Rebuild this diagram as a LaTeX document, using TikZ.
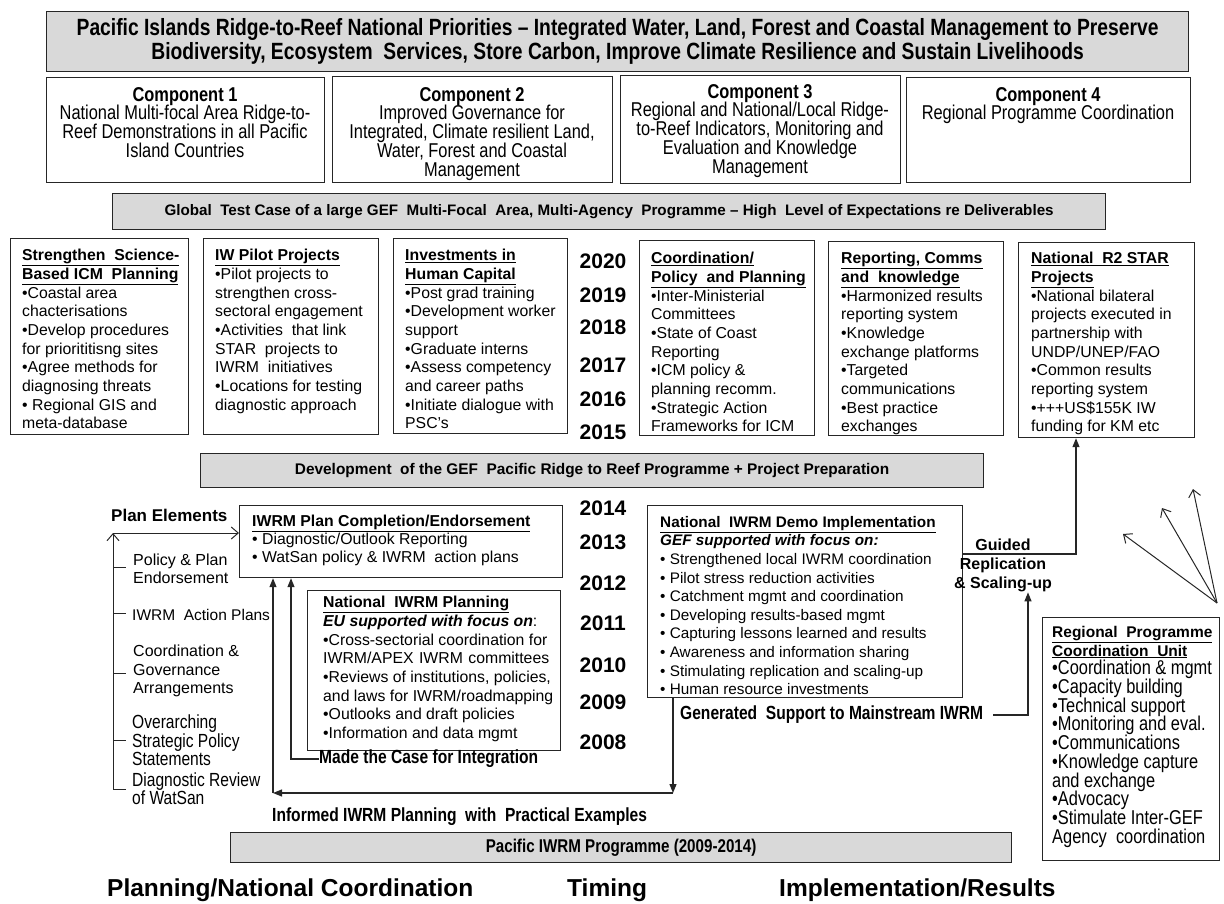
\documentclass[tikz,border=0pt]{standalone}
\usepackage{fontspec}
\setmainfont{Liberation Sans}
\newfontfamily\narrowfont[FakeStretch=0.82]{Liberation Sans}
\usetikzlibrary{arrows.meta}
\definecolor{barfill}{HTML}{D9D9D9}
\definecolor{edge}{HTML}{262626}
\newcommand{\fsz}[2]{\fontsize{#1}{#2}\selectfont}
\newcommand{\hd}[1]{\underline{\textbf{#1}}}

\begin{document}
\begin{tikzpicture}[x=1pt, y=-1pt,
    box/.style={draw=edge, line width=1.2pt, anchor=north west, inner sep=0pt},
    bar/.style={box, fill=barfill},
    txt/.style={anchor=north west, align=left, inner sep=0pt, font=\fsz{15.8}{18.7}},
    ctxt/.style={anchor=north, align=center, inner sep=0pt, font=\narrowfont\fsz{20}{18.8}},
    ntxt/.style={inner sep=0pt, font=\narrowfont\bfseries\fsz{19}{19}},
    yr/.style={inner sep=0pt, font=\bfseries\fsz{21}{21}},
    coltitle/.style={anchor=west, inner sep=0pt, font=\bfseries\fsz{24.5}{24.5}},
    link/.style={draw=edge, line width=1.2pt},
    fillarr/.style={link, -{Triangle[length=9pt, width=7pt]}},
    openarr/.style={draw=edge, line width=1pt, -{Straight Barb[length=7pt, width=12pt]}}]
		%%%%% START %%%%%
		\useasboundingbox (0,0) rectangle (1224,904);

		% priorities and components
		\node[bar, minimum width=1142, minimum height=60] (prio) at (46,11) {};
		\node[align=center, inner sep=0pt, font=\narrowfont\bfseries\fsz{23.5}{24}] (prio-t) at (prio.center)
			{Pacific Islands Ridge-to-Reef National Priorities – Integrated Water, Land, Forest and Coastal Management to Preserve\\
			 Biodiversity, Ecosystem~ Services, Store Carbon, Improve Climate Resilience and Sustain Livelihoods};

		\node[box, minimum width=278, minimum height=105] (c1) at (46,77) {};
		\node[box, minimum width=280, minimum height=106] (c2) at (332,76) {};
		\node[box, minimum width=280, minimum height=108] (c3) at (620,75) {};
		\node[box, minimum width=284, minimum height=105] (c4) at (906,77) {};
		\node[ctxt] (c1-t) at (185,87) {\textbf{Component 1}\\National Multi-focal Area Ridge-to-\\Reef Demonstrations in all Pacific\\Island Countries};
		\node[ctxt] (c2-t) at (472,87) {\textbf{Component 2}\\Improved Governance for\\Integrated, Climate resilient Land,\\Water, Forest and Coastal\\Management};
		\node[ctxt] (c3-t) at (760,84) {\textbf{Component 3}\\Regional and National/Local Ridge-\\to-Reef Indicators, Monitoring and\\Evaluation and Knowledge\\Management};
		\node[ctxt] (c4-t) at (1048,87) {\textbf{Component 4}\\Regional Programme Coordination};

		\node[bar, minimum width=993, minimum height=36] (glob) at (112,193) {};
		\node[inner sep=0pt, font=\bfseries\fsz{15.2}{15.2}] (glob-t) at (glob.center)
			{Global~ Test Case of a large GEF~ Multi-Focal~ Area, Multi-Agency~ Programme – High~ Level of Expectations re Deliverables};

		% ridge to reef programme
		\node[box, minimum width=178, minimum height=196] (sci) at (10,238) {};
		\node[box, minimum width=175, minimum height=196] (iwp) at (203,238) {};
		\node[box, minimum width=174, minimum height=195] (hum) at (393,238) {};
		\node[box, minimum width=175, minimum height=195] (coo) at (639,240) {};
		\node[box, minimum width=175, minimum height=194] (rep) at (828,241) {};
		\node[box, minimum width=176, minimum height=195] (star) at (1018,242) {};

		\node[txt] (sci-t) at (22,249) {\hd{Strengthen~ Science-}\\\hd{Based ICM~ Planning}\\{\textbullet}Coastal area\\chacterisations\\{\textbullet}Develop procedures\\for priorititisng sites\\{\textbullet}Agree methods for\\diagnosing threats\\{\textbullet} Regional GIS and\\meta-database};
		\node[txt] (iwp-t) at (215,249) {\hd{IW Pilot Projects}\\{\textbullet}Pilot projects to\\strengthen cross-\\sectoral engagement\\{\textbullet}Activities~ that link\\STAR~ projects to\\IWRM~ initiatives\\{\textbullet}Locations for testing\\diagnostic approach};
		\node[txt] (hum-t) at (405,249) {\hd{Investments in}\\\hd{Human Capital}\\{\textbullet}Post grad training\\{\textbullet}Development worker\\support\\{\textbullet}Graduate interns\\{\textbullet}Assess competency\\and career paths\\{\textbullet}Initiate dialogue with\\PSC's};
		\node[txt] (coo-t) at (651,252) {\hd{Coordination/}\\\hd{Policy~ and Planning}\\{\textbullet}Inter-Ministerial\\Committees\\{\textbullet}State of Coast\\Reporting\\{\textbullet}ICM policy \&\\planning recomm.\\{\textbullet}Strategic Action\\Frameworks for ICM};
		\node[txt] (rep-t) at (841,252) {\hd{Reporting, Comms}\\\hd{and~ knowledge}\\{\textbullet}Harmonized results\\reporting system\\{\textbullet}Knowledge\\exchange platforms\\{\textbullet}Targeted\\communications\\{\textbullet}Best practice\\exchanges};
		\node[txt] (star-t) at (1031,252) {\hd{National~ R2 STAR}\\\hd{Projects}\\{\textbullet}National bilateral\\projects executed in\\partnership with\\UNDP/UNEP/FAO\\{\textbullet}Common results\\reporting system\\{\textbullet}+++US\$155K IW\\funding for KM etc};

		\foreach \yr/\y in {2020/261, 2019/295, 2018/327, 2017/365, 2016/399, 2015/432}
			\node[yr] (y\yr) at (603,\y) {\yr};

		\node[bar, minimum width=783, minimum height=34] (dev) at (200,453) {};
		\node[inner sep=0pt, font=\bfseries\fsz{15.4}{15.4}] (dev-t) at (dev.center)
			{Development~ of the GEF~ Pacific Ridge to Reef Programme + Project Preparation};

		% pacific iwrm programme
		\node[anchor=west, inner sep=0pt, font=\bfseries\fsz{17}{17}] (pe-t) at (111,515) {Plan Elements};
		\node[box, minimum width=323, minimum height=72] (plan) at (239,505) {};
		\node[txt, font=\fsz{15.8}{18}] (plan-t) at (252,515) {\hd{IWRM Plan Completion/Endorsement}\\{\textbullet} Diagnostic/Outlook Reporting\\{\textbullet} WatSan policy \& IWRM~ action plans};
		\node[box, minimum width=253, minimum height=160] (nat) at (307,590) {};
		\node[txt] (nat-t) at (323,596) {\hd{National~ IWRM Planning}\\\textbf{\textit{EU supported with focus on}}:\\{\textbullet}Cross-sectorial coordination for\\\hbox to 226pt{IWRM/APEX\hfil IWRM\hfil committees}\\{\textbullet}Reviews of institutions, policies,\\and laws for IWRM/roadmapping\\{\textbullet}Outlooks and draft policies\\{\textbullet}Information and data mgmt};
		\node[box, minimum width=315, minimum height=192] (demo) at (647,505) {};
		\node[txt, font=\fsz{15.3}{18.6}] (demo-t) at (660,516) {\hd{National~ IWRM Demo Implementation}\\\textbf{\textit{GEF supported with focus on:}}\\{\textbullet} Strengthened local IWRM coordination\\{\textbullet} Pilot stress reduction activities\\{\textbullet} Catchment mgmt and coordination\\{\textbullet} Developing results-based mgmt\\{\textbullet} Capturing lessons learned and results\\{\textbullet} Awareness and information sharing\\{\textbullet} Stimulating replication and scaling-up\\{\textbullet} Human resource investments};
		\node[box, minimum width=177, minimum height=243] (rpcu) at (1042,617) {};
		\node[txt, font=\narrowfont\fsz{20}{18.7}] (rpcu-t) at (1052,626) {{\rmfamily\fsz{15.5}{18.7}\hd{Regional~ Programme}}\\{\rmfamily\fsz{15.5}{18.7}\hd{Coordination~ Unit}}\\{\textbullet}Coordination \& mgmt\\{\textbullet}Capacity building\\{\textbullet}Technical support\\{\textbullet}Monitoring and eval.\\{\textbullet}Communications\\{\textbullet}Knowledge capture\\and exchange\\{\textbullet}Advocacy\\{\textbullet}Stimulate Inter-GEF\\Agency~ coordination};

		\foreach \yr/\y in {2014/508, 2013/542, 2012/583, 2011/623, 2010/665, 2009/702, 2008/742}
			\node[yr] (y\yr) at (603,\y) {\yr};

		% plan elements
		\node[txt, font=\fsz{16}{18}] (pol) at (133,554) {Policy \& Plan\\Endorsement};
		\node[txt, font=\fsz{15.5}{18}] (act) at (132,609) {IWRM~ Action Plans};
		\node[txt, font=\fsz{16}{18.5}] (gov) at (133,645) {Coordination \&\\Governance\\Arrangements};
		\node[txt, font=\narrowfont\fsz{19}{17.5}] (ovr) at (132,715) {Overarching\\Strategic Policy\\Statements};
		\node[txt, font=\narrowfont\fsz{19}{18}] (diag) at (132,773) {Diagnostic Review\\of WatSan};

		\coordinate (pe) at (113,533);
		\coordinate (pb) at (113,789);
		\draw[openarr] (126,789) -- (pb) -- (pe);
		\draw[openarr] (pe) -- (pe -| plan.west);
		\foreach \y in {567, 613, 673, 740}
			\draw[draw=edge, line width=1pt] (113,\y) -- (126,\y);

		% flows
		\node[ntxt, anchor=west] (case) at (319,759) {Made the Case for Integration};
		\node[ntxt, anchor=west] (gen) at (680,715) {Generated~ Support to Mainstream IWRM};
		\node[ntxt, anchor=west] (inf) at (272,817) {Informed IWRM Planning~ with~ Practical Examples};
		\node[anchor=north, align=center, inner sep=0pt, font=\bfseries\fsz{16}{19}] (guided) at (1003,539) {Guided\\Replication\\\& Scaling-up};

		\coordinate (dn) at (673,793);
		\coordinate (lf) at (273,793);
		\coordinate (mc) at (291,759);
		\draw[fillarr] (demo.south -| dn) -- (dn);
		\draw[fillarr] (dn) -- (lf);
		\draw[fillarr] (lf) -- (lf |- plan.south);
		\draw[fillarr] (case.west) -- (mc) -- (mc |- plan.south);

		\coordinate (gr) at (1076,554);
		\draw[fillarr] (demo.east |- gr) -- (gr) -- (gr |- star.south);
		\coordinate (gs) at (1028,715);
		\draw[fillarr] ([xshift=10pt]gen.east) -- (gs) -- (gs |- guided.south);

		\coordinate (fan) at (1217,603);
		\foreach \tx/\ty in {1123/534, 1162/508, 1193/489}
			\draw[openarr] (fan) -- (\tx,\ty);

		\node[bar, minimum width=781, minimum height=30] (pac) at (230,832) {};
		\node[ntxt, font=\narrowfont\bfseries\fsz{18.5}{18.5}] (pac-t) at (pac.center) {Pacific IWRM Programme (2009-2014)};

		% column titles
		\node[coltitle] (col1) at (107,890) {Planning/National Coordination};
		\node[coltitle] (col2) at (567,890) {Timing};
		\node[coltitle] (col3) at (779,890) {Implementation/Results};

		%%%%% END %%%%%
\end{tikzpicture}
\end{document}
